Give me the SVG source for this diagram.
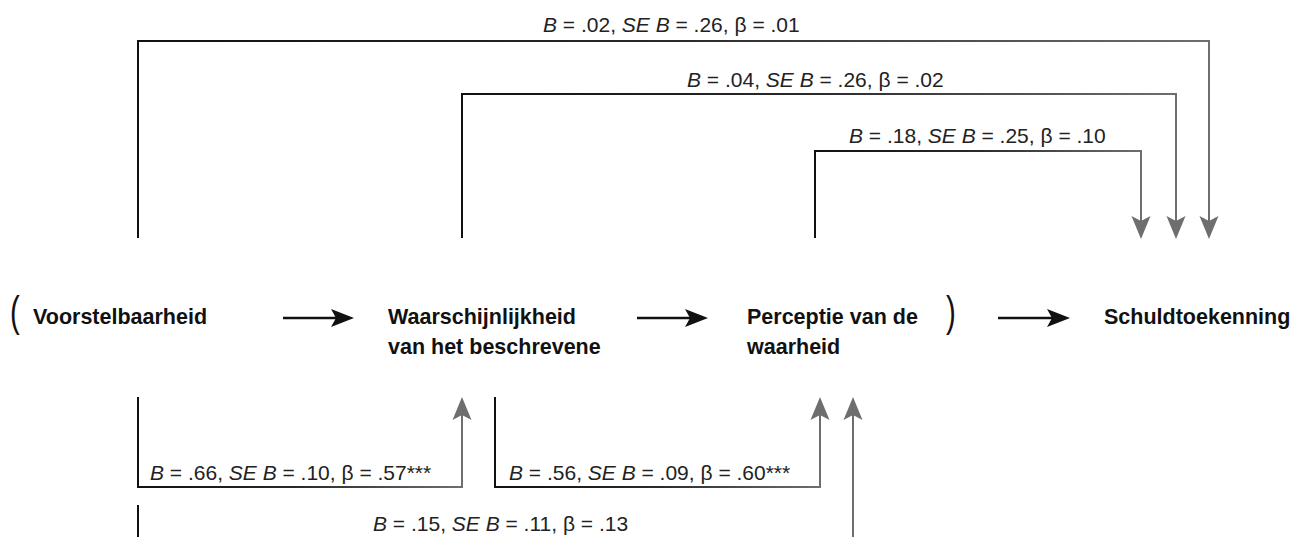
<svg xmlns="http://www.w3.org/2000/svg" width="1298" height="537" viewBox="0 0 1298 537">
  <style>
    .node { font-family: "Liberation Sans", Arial, sans-serif; font-weight: bold; font-size: 21.5px; fill: #111; }
    .paren { font-family: "Liberation Sans", Arial, sans-serif; font-size: 42px; fill: #111; }
    .lbl { font-family: "Liberation Sans", Arial, sans-serif; font-size: 21px; fill: #222; }
    .it { font-style: italic; }
    .conn { fill: none; stroke: url(#fade); stroke-width: 2; }
    .flow { fill: none; stroke: #111; stroke-width: 2.5; }
  </style>
  <defs>
    <linearGradient id="fade" x1="0" y1="0" x2="1" y2="0">
      <stop offset="0" stop-color="#111"/>
      <stop offset="0.5" stop-color="#2a2a2a"/>
      <stop offset="1" stop-color="#6e6e6e"/>
    </linearGradient>
    <marker id="grayHead" markerUnits="userSpaceOnUse" markerWidth="30" markerHeight="24" viewBox="-2 -12 30 24" refX="12" refY="0" orient="auto">
      <path d="M0,-9.5 L23,0 L0,9.5 L5,0 Z" fill="#6e6e6e"/>
    </marker>
    <marker id="blackHead" markerUnits="userSpaceOnUse" markerWidth="30" markerHeight="24" viewBox="-2 -12 30 24" refX="12" refY="0" orient="auto">
      <path d="M0,-9 L23,0 L0,9 L5,0 Z" fill="#111"/>
    </marker>
  </defs>

  <g id="connectors">
    <path class="conn" d="M138,238 V41 H1209 V228" marker-end="url(#grayHead)"/>
    <path class="conn" d="M462,238 V94 H1176 V228" marker-end="url(#grayHead)"/>
    <path class="conn" d="M815,238 V151 H1141 V228" marker-end="url(#grayHead)"/>
    <path class="conn" d="M138,397 V487 H462 V408" marker-end="url(#grayHead)"/>
    <path class="conn" d="M495,397 V487 H820 V408" marker-end="url(#grayHead)"/>
    <path class="conn" d="M138,505 V560 H853 V408" marker-end="url(#grayHead)"/>
    <path class="flow" d="M283,318 H343" marker-end="url(#blackHead)"/>
    <path class="flow" d="M637,318 H697" marker-end="url(#blackHead)"/>
    <path class="flow" d="M998,318 H1059" marker-end="url(#blackHead)"/>
  </g>

  <g id="labels">
    <text class="lbl" x="543" y="32"><tspan class="it">B</tspan> = .02, <tspan class="it">SE B</tspan> = .26, β = .01</text>
    <text class="lbl" x="687" y="87"><tspan class="it">B</tspan> = .04, <tspan class="it">SE B</tspan> = .26, β = .02</text>
    <text class="lbl" x="849" y="143"><tspan class="it">B</tspan> = .18, <tspan class="it">SE B</tspan> = .25, β = .10</text>
    <text class="lbl" x="150" y="480"><tspan class="it">B</tspan> = .66, <tspan class="it">SE B</tspan> = .10, β = .57***</text>
    <text class="lbl" x="509" y="480"><tspan class="it">B</tspan> = .56, <tspan class="it">SE B</tspan> = .09, β = .60***</text>
    <text class="lbl" x="373" y="531"><tspan class="it">B</tspan> = .15, <tspan class="it">SE B</tspan> = .11, β = .13</text>
  </g>

  <g id="paren-open"><text class="paren" transform="translate(10,326) scale(0.7,1)" x="0" y="0">(</text></g>
  <g id="node-voorstelbaarheid"><text class="node" x="33" y="324">Voorstelbaarheid</text></g>
  <g id="node-waarschijnlijkheid">
    <text class="node" x="388" y="324">Waarschijnlijkheid</text>
    <text class="node" x="388" y="354">van het beschrevene</text>
  </g>
  <g id="node-perceptie">
    <text class="node" x="747" y="324">Perceptie van de</text>
    <text class="node" x="747" y="354">waarheid</text>
  </g>
  <g id="paren-close"><text class="paren" transform="translate(946,326) scale(0.7,1)" x="0" y="0">)</text></g>
  <g id="node-schuldtoekenning"><text class="node" x="1104" y="324">Schuldtoekenning</text></g>
</svg>
